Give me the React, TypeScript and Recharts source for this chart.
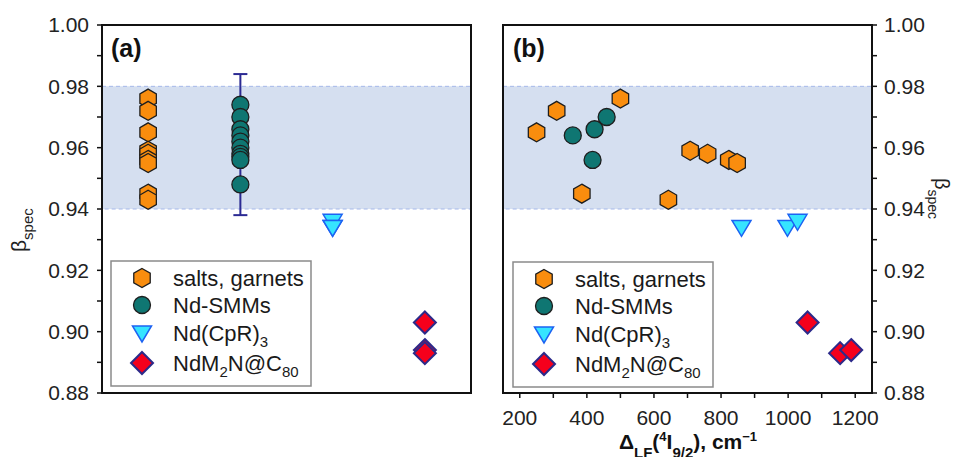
import React from 'react';
import { ScatterChart, Scatter, XAxis, YAxis, ReferenceArea, ErrorBar } from 'recharts';

const FONT = '"Liberation Sans", Arial, sans-serif';

// panel (a): one column per compound family
const groupX = [1, 2, 3, 4];
const saltsA = [0.976, 0.972, 0.965, 0.959, 0.958, 0.956, 0.955, 0.945, 0.943];
const smmA = [0.974, 0.970, 0.966, 0.964, 0.962, 0.960, 0.958, 0.957, 0.956, 0.948];
const cprA = [0.936, 0.934, 0.934];
const fullA = [0.903, 0.894, 0.893];
const smmErrA = 0.0008;
const smmMeanA = 0.961;
const smmSpreadA = 0.023;

// panel (b): beta vs. ligand field splitting
const saltsDelta = [250, 310, 385, 500, 643, 708, 760, 823, 848];
const saltsBeta = [0.965, 0.972, 0.945, 0.976, 0.943, 0.959, 0.958, 0.956, 0.955];
const smmDelta = [358, 417, 423, 459];
const smmBeta = [0.964, 0.956, 0.966, 0.970];
const cprDelta = [861, 998, 1028];
const cprBeta = [0.934, 0.934, 0.936];
const fullDelta = [1058, 1155, 1188];
const fullBeta = [0.903, 0.893, 0.894];

const betaTicks = [0.88, 0.89, 0.9, 0.91, 0.92, 0.93, 0.94, 0.95, 0.96, 0.97, 0.98, 0.99, 1.0];
const deltaTicks = [200, 300, 400, 500, 600, 700, 800, 900, 1000, 1100, 1200];
const betaBand = [0.94, 0.98];

const colA = (x: number, ys: number[], err?: number) => ys.map(y => ({ x, y, err }));
const pairs = (xs: number[], ys: number[]) => xs.map((x, i) => ({ x, y: ys[i] }));

const Hexagon = ({ cx, cy }: any) => {
    const r = 9.5;
    const pts = [0, 1, 2, 3, 4, 5].map(k => {
        const a = (Math.PI / 180) * (-90 + k * 60);
        return `${cx + r * Math.cos(a)},${cy + r * Math.sin(a)}`;
    }).join(' ');
    return <polygon points={pts} fill="#f98d0e" stroke="#1e1e1e" strokeWidth={1.3} />;
};
const Dot = ({ cx, cy }: any) => (
    <circle cx={cx} cy={cy} r={8.5} fill="#0f7672" stroke="#1e1e1e" strokeWidth={1.3} />
);
const TriDown = ({ cx, cy }: any) => (
    <polygon points={`${cx - 9.5},${cy - 7} ${cx + 9.5},${cy - 7} ${cx},${cy + 9}`}
        fill="#36e4ff" stroke="#1d63f2" strokeWidth={1.5} />
);
const Diamond = ({ cx, cy }: any) => (
    <polygon points={`${cx},${cy - 11} ${cx + 11},${cy} ${cx},${cy + 11} ${cx - 11},${cy}`}
        fill="#f5001c" stroke="#2c2a8a" strokeWidth={2} />
);
const Nothing = () => <g />;

const tickStyle = { fontSize: 21, fill: '#222', fontFamily: FONT };
const majorBeta = (v: number) => (Math.round(v * 100) % 2 === 0 ? v.toFixed(2) : '');
const majorDelta = (v: number) => (v % 200 === 0 ? String(v) : '');

const Band = ({ x1, x2 }: { x1: number; x2: number }) => (
    <ReferenceArea x1={x1} x2={x2} y1={betaBand[0]} y2={betaBand[1]} fill="#d5dff0" fillOpacity={1}
        stroke="#a5b8ea" strokeDasharray="4 3" strokeWidth={1} />
);

const legendRows = [
    { label: 'salts, garnets', Shape: Hexagon },
    { label: 'Nd-SMMs', Shape: Dot },
    { label: 'Nd(CpR)', sub: '3', Shape: TriDown },
    { label: 'NdM', sub: '2', rest: 'N@C', sub2: '80', Shape: Diamond },
];
const rowOffsets = [17, 44, 72, 102];

const LegendBox = ({ x, y }: { x: number; y: number }) => (
    <g>
        <rect x={x} y={y} width={200} height={125} fill="#fff" stroke="#8a8a8a" strokeWidth={1.5} />
        {legendRows.map((row, i) => {
            const cy = y + rowOffsets[i];
            const { Shape } = row;
            return (
                <g key={row.label}>
                    <Shape cx={x + 31} cy={cy} />
                    <text x={x + 62} y={cy + 8} fontSize={22} fill="#1a1a1a" fontFamily={FONT}>
                        {row.label}
                        {row.sub && <tspan fontSize={15} dy={6}>{row.sub}</tspan>}
                        {row.rest && <tspan fontSize={22} dy={-6}>{row.rest}</tspan>}
                        {row.sub2 && <tspan fontSize={15} dy={6}>{row.sub2}</tspan>}
                    </text>
                </g>
            );
        })}
    </g>
);

export default function App() {
    return (
        <div style={{ position: 'absolute', left: 0, top: 0, width: 954, height: 457, background: '#fff', overflow: 'hidden' }}>
            <div style={{ position: 'absolute', left: 0, top: 0 }}>
                <ScatterChart width={480} height={457} margin={{ top: 25, right: 9, bottom: 64, left: 0 }}>
                    <XAxis type="number" dataKey="x" domain={[0.5, 4.5]} hide />
                    <YAxis type="number" dataKey="y" domain={[0.88, 1.0]} ticks={betaTicks} interval={0}
                        tickFormatter={majorBeta} width={102} axisLine={false} tickSize={5} tickMargin={8}
                        tickLine={{ stroke: '#111', strokeWidth: 1.5 }} tick={tickStyle} allowDataOverflow />
                    <Band x1={0.5} x2={4.5} />
                    <ReferenceArea x1={0.5} x2={4.5} y1={0.88} y2={1.0} fill="none" stroke="#111" strokeWidth={2} />
                    <Scatter data={colA(groupX[0], saltsA)} shape={Hexagon} isAnimationActive={false} />
                    <Scatter data={colA(groupX[1], smmA)} shape={Dot} isAnimationActive={false} />
                    <Scatter data={colA(groupX[1], smmA, smmErrA)} shape={Nothing} isAnimationActive={false}>
                        <ErrorBar dataKey="err" direction="y" width={8} stroke="#2b2a93" strokeWidth={1.3} />
                    </Scatter>
                    <Scatter data={colA(groupX[1], [smmMeanA], smmSpreadA)} shape={Nothing} isAnimationActive={false}>
                        <ErrorBar dataKey="err" direction="y" width={7} stroke="#2b2a93" strokeWidth={2} />
                    </Scatter>
                    <Scatter data={colA(groupX[2], cprA)} shape={TriDown} isAnimationActive={false} />
                    <Scatter data={colA(groupX[3], fullA)} shape={Diamond} isAnimationActive={false} />
                </ScatterChart>
            </div>
            <div style={{ position: 'absolute', left: 480, top: 0 }}>
                <ScatterChart width={474} height={457} margin={{ top: 25, right: 0, bottom: 34, left: 23 }}>
                    <XAxis type="number" dataKey="x" domain={[150, 1250]} ticks={deltaTicks} interval={0}
                        tickFormatter={majorDelta} height={30} axisLine={false} tickSize={5} tickMargin={12}
                        tickLine={{ stroke: '#111', strokeWidth: 1.5 }} tick={tickStyle} />
                    <YAxis type="number" dataKey="y" orientation="right" domain={[0.88, 1.0]} ticks={betaTicks}
                        interval={0} tickFormatter={majorBeta} width={82} axisLine={false} tickSize={5} tickMargin={7}
                        tickLine={{ stroke: '#111', strokeWidth: 1.5 }} tick={tickStyle} allowDataOverflow />
                    <Band x1={150} x2={1250} />
                    <ReferenceArea x1={150} x2={1250} y1={0.88} y2={1.0} fill="none" stroke="#111" strokeWidth={2} />
                    <Scatter data={pairs(saltsDelta, saltsBeta)} shape={Hexagon} isAnimationActive={false} />
                    <Scatter data={pairs(smmDelta, smmBeta)} shape={Dot} isAnimationActive={false} />
                    <Scatter data={pairs(cprDelta, cprBeta)} shape={TriDown} isAnimationActive={false} />
                    <Scatter data={pairs(fullDelta, fullBeta)} shape={Diamond} isAnimationActive={false} />
                </ScatterChart>
            </div>
            <svg width={954} height={457} style={{ position: 'absolute', left: 0, top: 0, pointerEvents: 'none' }}>
                <text x={111} y={57} fontSize={25} fontWeight="bold" fill="#111" fontFamily={FONT}>(a)</text>
                <text x={513} y={57} fontSize={25} fontWeight="bold" fill="#111" fontFamily={FONT}>(b)</text>
                <text transform="translate(26,252) rotate(-90)" fontSize={21} fill="#222" fontFamily={FONT}>
                    β<tspan fontSize={15} dy={7}>spec</tspan>
                </text>
                <text transform="translate(935,178) rotate(90)" fontSize={20} fill="#222" fontFamily={FONT}>
                    β<tspan fontSize={14} dy={7}>spec</tspan>
                </text>
                <text x={688} y={449} textAnchor="middle" fontSize={21} fontWeight="bold" fill="#111" fontFamily={FONT}>
                    Δ<tspan fontSize={15} dy={9}>LF</tspan>
                    <tspan dy={-9}>(</tspan>
                    <tspan fontSize={13} dy={-8}>4</tspan>
                    <tspan dy={8}>I</tspan>
                    <tspan fontSize={15} dy={9}>9/2</tspan>
                    <tspan dy={-9}>), cm</tspan>
                    <tspan fontSize={13} dy={-8}>−1</tspan>
                </text>
                <LegendBox x={111} y={261} />
                <LegendBox x={513} y={262} />
            </svg>
        </div>
    );
}
